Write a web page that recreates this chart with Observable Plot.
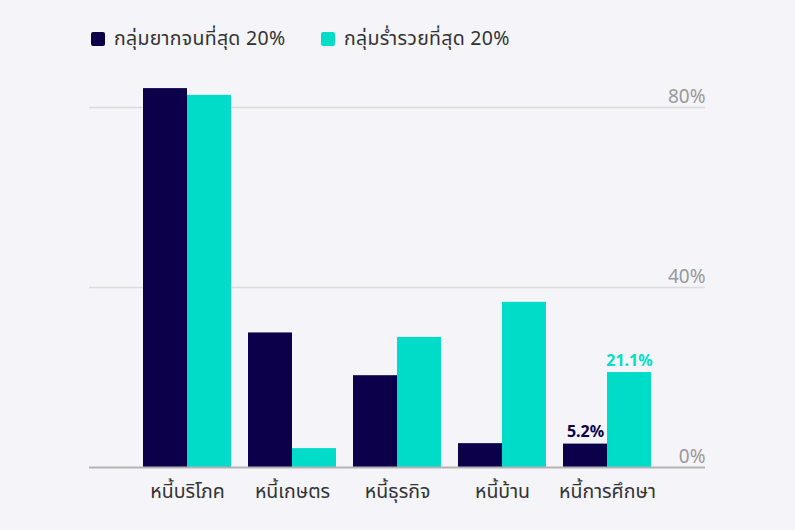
<!DOCTYPE html>
<html>
<head>
<meta charset="utf-8">
<script src="https://cdn.jsdelivr.net/npm/d3@7"></script>
<script src="https://cdn.jsdelivr.net/npm/@observablehq/plot@0.6"></script>
<style>
  html, body { margin: 0; padding: 0; background: #f4f4f9; }
  body { width: 795px; height: 530px; overflow: hidden; font-family: "Noto Sans", "Noto Sans Thai", sans-serif; }
  #legend { position: relative; height: 70px; }
  .item { position: absolute; top: 24px; display: flex; align-items: center; font-size: 19.5px; color: #333; letter-spacing: 0.3px; }
  .sw { width: 14px; height: 14px; border-radius: 2px; margin-right: 9px; }
  #chart svg { display: block; }
</style>
</head>
<body>
<div id="legend"></div>
<div id="chart"></div>
<script>
const categories = ["หนี้บริโภค", "หนี้เกษตร", "หนี้ธุรกิจ", "หนี้บ้าน", "หนี้การศึกษา"];
const poorest = [84.2, 29.9, 20.4, 5.3, 5.2];
const richest = [82.7, 4.2, 28.9, 36.7, 21.1];
const seriesNames = ["กลุ่มยากจนที่สุด 20%", "กลุ่มร่ำรวยที่สุด 20%"];
const seriesColors = ["#0b0049", "#00dcc8"];
const yTicks = [0, 40, 80];
const labelledCategory = "หนี้การศึกษา";

const data = categories.map((c, i) => ({cat: c, poor: poorest[i], rich: richest[i]}));
const labelled = data.filter(d => d.cat === labelledCategory);

// legend
const legend = document.getElementById("legend");
const legendX = [91, 321];
seriesNames.forEach((n, i) => {
  const el = document.createElement("div");
  el.className = "item";
  el.style.left = legendX[i] + "px";
  el.innerHTML = `<span class="sw" style="background:${seriesColors[i]}"></span><span>${n}</span>`;
  legend.appendChild(el);
});

const chart = Plot.plot({
  width: 795,
  height: 460,
  marginLeft: 89,
  marginRight: 90,
  marginTop: 37,
  marginBottom: 63,
  style: {background: "transparent", fontFamily: "'Noto Sans', 'Noto Sans Thai', sans-serif"},
  x: {domain: categories, paddingInner: 0.162, paddingOuter: 0.505, label: null},
  y: {domain: [0, 80], axis: null},
  marks: [
    Plot.ruleY([40, 80], {stroke: "#dcdcdc", strokeWidth: 1.5}),
    Plot.barY(data, {x: "cat", y: "poor", fill: seriesColors[0], insetRight: 44}),
    Plot.barY(data, {x: "cat", y: "rich", fill: seriesColors[1], insetLeft: 44}),
    Plot.ruleY([0], {stroke: "#b3b3b3", strokeWidth: 2}),
    Plot.text(yTicks, {y: d => d, text: d => d + "%", frameAnchor: "right", textAnchor: "end", dy: -11, fill: "#999", fontSize: 19}),
    Plot.text(labelled, {x: "cat", y: "poor", text: d => d.poor + "%", dx: -22, dy: -12, fill: seriesColors[0], fontSize: 16, fontWeight: "bold"}),
    Plot.text(labelled, {x: "cat", y: "rich", text: d => d.rich + "%", dx: 22, dy: -12, fill: seriesColors[1], fontSize: 16, fontWeight: "bold"}),
    Plot.axisX({tickSize: 0, tickPadding: 17, fontSize: 19.5, fill: "#333", label: null})
  ]
});
document.getElementById("chart").appendChild(chart);
</script>
</body>
</html>
